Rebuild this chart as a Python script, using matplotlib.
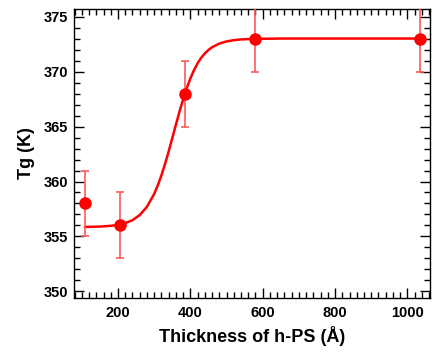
import matplotlib.pyplot as plt
from matplotlib.ticker import MultipleLocator

# measured Tg vs h-PS thickness
thickness = [109, 205, 385, 578, 1036]
tg = [358, 356, 368, 373, 373]
tg_err = [3, 3, 3, 3, 3]

# fitted curve
fit_x = [109, 150, 180, 200, 220, 240, 260, 280, 300, 310, 320, 330, 340, 350,
         360, 370, 380, 390, 400, 410, 420, 430, 440, 450, 460, 480, 500, 520,
         540, 570, 600, 650, 800, 1036]
fit_y = [355.87, 355.90, 355.97, 356.06, 356.22, 356.48, 356.95, 357.70, 358.87,
         359.65, 360.56, 361.60, 362.73, 363.94, 365.16, 366.36, 367.47, 368.48,
         369.37, 370.12, 370.75, 371.25, 371.65, 371.96, 372.21, 372.54, 372.74,
         372.85, 372.92, 372.96, 372.98, 373.0, 373.0, 373.0]

plt.rcParams['font.family'] = ['Liberation Sans', 'DejaVu Sans']

fig = plt.figure(figsize=(4.32, 3.54), dpi=100)
ax = fig.add_axes([0.171, 0.158, 0.824, 0.817])

ax.plot(fit_x, fit_y, color='red', lw=1.8, zorder=2, solid_joinstyle='round')
ax.errorbar(thickness, tg, yerr=tg_err, fmt='none', ecolor='#ff5a5a',
            elinewidth=1.2, capsize=3, capthick=1.2, zorder=3)
ax.plot(thickness, tg, 'o', color='red', ms=8, zorder=4)

ax.set_xlim(78, 1062)
ax.set_ylim(349.4, 375.7)
ax.xaxis.set_major_locator(MultipleLocator(200))
ax.xaxis.set_minor_locator(MultipleLocator(20))
ax.yaxis.set_major_locator(MultipleLocator(5))
ax.yaxis.set_minor_locator(MultipleLocator(1))

ax.tick_params(which='both', direction='in', top=True, right=True, width=1)
ax.tick_params(which='major', length=7, labelsize=10.5)
ax.tick_params(axis='x', which='major', pad=6)
ax.tick_params(axis='y', which='major', pad=4)
ax.tick_params(which='minor', length=4)
for lab in ax.get_xticklabels() + ax.get_yticklabels():
    lab.set_fontweight('bold')
for s in ax.spines.values():
    s.set_linewidth(1)

ax.set_xlabel('Thickness of h-PS (Å)', fontsize=13, fontweight='bold', labelpad=4)
ax.set_ylabel('Tg (K)', fontsize=13, fontweight='bold', labelpad=6)

fig.savefig('out.png', dpi=100)
